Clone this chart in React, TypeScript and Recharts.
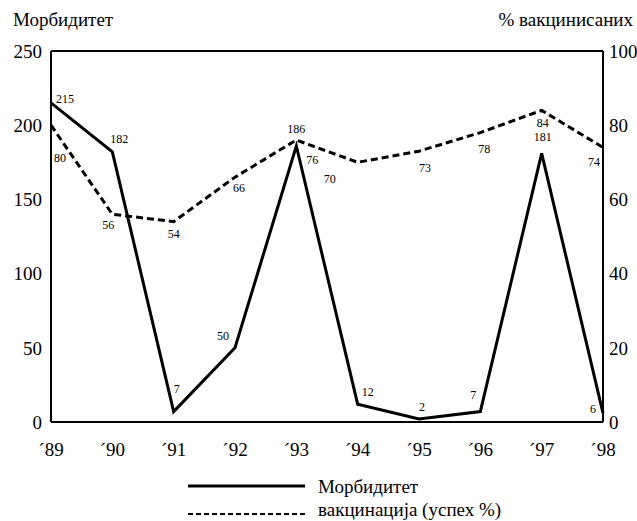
import React from "react";
import {
  LineChart,
  Line,
  XAxis,
  YAxis,
  ReferenceLine,
} from "recharts";

const years = ["´89", "´90", "´91", "´92", "´93", "´94", "´95", "´96", "´97", "´98"];
const morbidity = [215, 182, 7, 50, 186, 12, 2, 7, 181, 6];
const vaccination = [80, 56, 54, 66, 76, 70, 73, 78, 84, 74];
const leftTicks = [0, 50, 100, 150, 200, 250];
const rightTicks = [0, 20, 40, 60, 80, 100];

// label nudges (dx, dy) from each point
const MORB_OFFSETS = [[14, -4], [7, -13], [3, -23], [-12, -12], [0, -17], [10, -12], [3, -12], [-7, -17], [1, -16], [-10, -4]];
const VACC_OFFSETS = [[9, 33], [-4, 11], [0, 12], [4, 11], [16, 20], [-28, 17], [6, 17], [4, 16], [1, 13], [-9, 15]];

const FONT = "Liberation Serif";

const data = years.map((year, i) => ({
  year,
  morbidity: morbidity[i],
  vaccination: vaccination[i],
}));

const pointLabel = (offsets: number[][]) => (props: any) => {
  const { x, y, index, value } = props;
  const [dx, dy] = offsets[index] ?? [0, -10];
  return (
    <text
      key={index}
      x={x + dx}
      y={y + dy}
      textAnchor="middle"
      dominantBaseline="central"
      fontFamily={FONT}
      fontSize={12}
      fill="#000"
    >
      {value}
    </text>
  );
};

const tickStyle = { fontSize: 19, fill: "#000", fontFamily: FONT };

export default function App() {
  return (
    <div style={{ position: "absolute", left: 0, top: 0, width: 637, height: 521, background: "#fff", fontFamily: FONT }}>
      <div style={{ position: "absolute", left: 13, top: 9, fontSize: 19, color: "#000" }}>Морбидитет</div>
      <div style={{ position: "absolute", right: 4, top: 9, fontSize: 19, color: "#000" }}>% вакцинисаних</div>
      <LineChart
        width={637}
        height={470}
        data={data}
        margin={{ top: 51, right: 0, bottom: 18, left: 0 }}
      >
        <XAxis
          dataKey="year"
          height={30}
          tickSize={0}
          tickMargin={21}
          axisLine={{ stroke: "#000", strokeWidth: 2 }}
          tick={tickStyle}
        />
        <YAxis
          yAxisId="left"
          width={51}
          domain={[0, 250]}
          ticks={leftTicks}
          tickSize={0}
          tickMargin={9}
          axisLine={{ stroke: "#000", strokeWidth: 2 }}
          tick={tickStyle}
        />
        <YAxis
          yAxisId="right"
          orientation="right"
          width={34}
          domain={[0, 100]}
          ticks={rightTicks}
          tickSize={0}
          tickMargin={6}
          axisLine={{ stroke: "#000", strokeWidth: 2 }}
          tick={tickStyle}
        />
        <ReferenceLine yAxisId="left" y={250} stroke="#000" strokeWidth={2} />
        <Line
          yAxisId="right"
          dataKey="vaccination"
          stroke="#000"
          strokeWidth={3}
          strokeDasharray="7 4"
          dot={false}
          isAnimationActive={false}
          label={pointLabel(VACC_OFFSETS)}
        />
        <Line
          yAxisId="left"
          dataKey="morbidity"
          stroke="#000"
          strokeWidth={3}
          dot={false}
          isAnimationActive={false}
          label={pointLabel(MORB_OFFSETS)}
        />
      </LineChart>
      <svg style={{ position: "absolute", left: 0, top: 470 }} width={637} height={51}>
        <line x1={188} x2={305} y1={16} y2={16} stroke="#000" strokeWidth={3} />
        <text x={318} y={23} fontFamily={FONT} fontSize={19} fill="#000">Морбидитет</text>
        <line x1={188} x2={305} y1={44} y2={44} stroke="#000" strokeWidth={2} strokeDasharray="5 3" />
        <text x={318} y={46} fontFamily={FONT} fontSize={19} fill="#000">вакцинација (успех %)</text>
      </svg>
    </div>
  );
}
